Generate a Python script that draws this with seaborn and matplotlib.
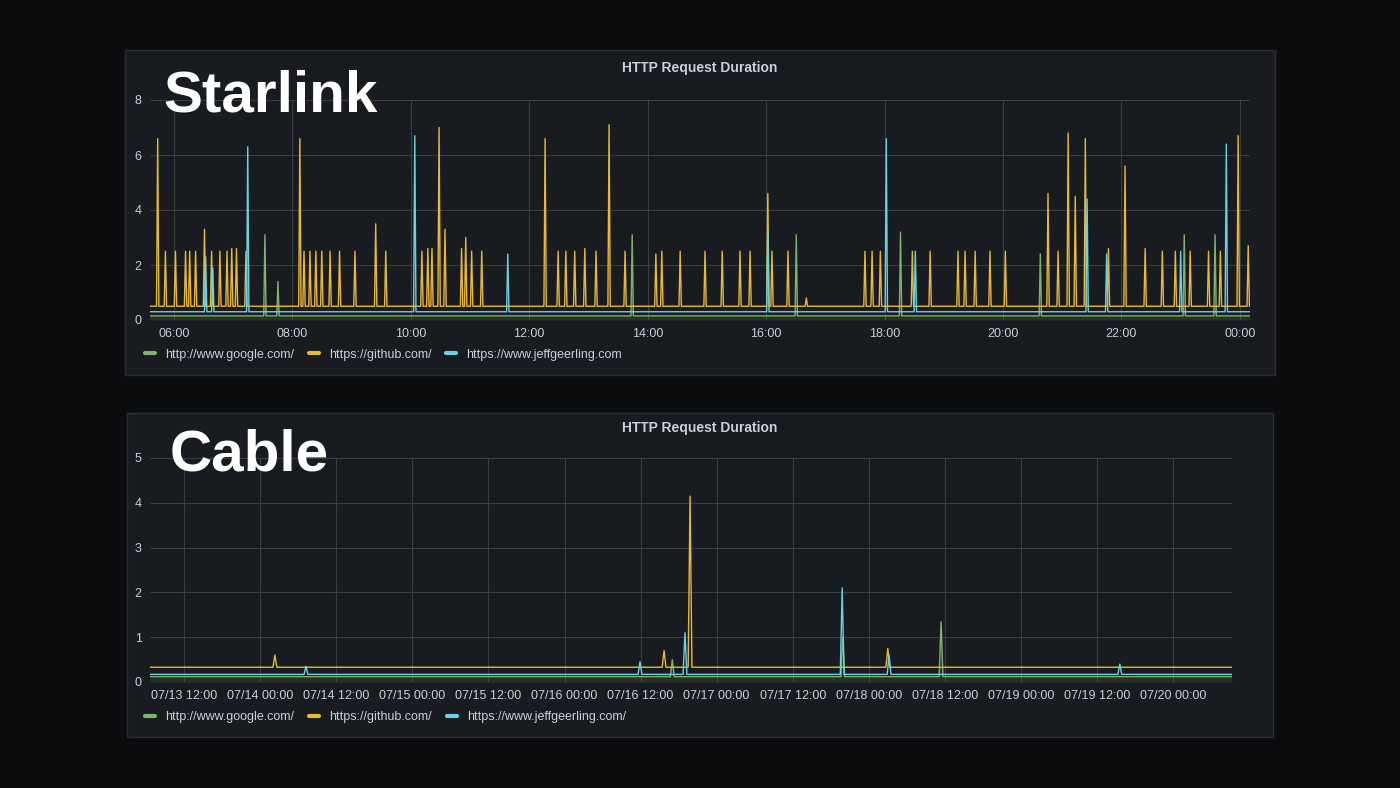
import numpy as np
import pandas as pd
import seaborn as sns
import matplotlib
matplotlib.use('Agg')
import matplotlib.pyplot as plt
from matplotlib.patches import Rectangle

# Starlink panel: spikes as (hour of day, seconds)
star_github_t = [5.73, 5.86, 6.03, 6.20, 6.27, 6.37, 6.52, 6.64, 6.78, 6.90, 6.98, 7.06, 7.22, 8.13, 8.20,
                 8.30, 8.40, 8.50, 8.64, 8.80, 9.06, 9.41, 9.58, 10.19, 10.29, 10.36, 10.48, 10.58, 10.86,
                 10.93, 11.03, 11.20, 12.27, 12.49, 12.62, 12.77, 12.94, 13.13, 13.35, 13.62, 14.14, 14.24,
                 14.55, 14.97, 15.26, 15.56, 15.73, 16.03, 16.10, 16.37, 16.68, 17.67, 17.79, 17.93, 18.47,
                 18.77, 19.24, 19.36, 19.53, 19.78, 20.04, 20.76, 20.93, 21.10, 21.22, 21.39, 21.78, 22.06,
                 22.40, 22.69, 22.91, 23.16, 23.47, 23.67, 23.97, 24.14]
star_github_v = [6.6, 2.5, 2.5, 2.5, 2.5, 2.5, 3.3, 2.5, 2.5, 2.5, 2.6, 2.6, 2.5, 6.6, 2.5,
                 2.5, 2.5, 2.5, 2.5, 2.5, 2.5, 3.5, 2.5, 2.5, 2.6, 2.6, 7.0, 3.3, 2.6,
                 3.0, 2.5, 2.5, 6.6, 2.5, 2.5, 2.5, 2.6, 2.5, 7.1, 2.5, 2.4, 2.5,
                 2.5, 2.5, 2.5, 2.5, 2.5, 4.6, 2.5, 2.5, 0.8, 2.5, 2.5, 2.5, 2.5,
                 2.5, 2.5, 2.5, 2.5, 2.5, 2.5, 4.6, 2.5, 6.8, 4.5, 6.6, 2.6, 5.6,
                 2.6, 2.5, 2.5, 2.5, 2.5, 2.5, 6.7, 2.7]
star_jeff_t = [6.54, 6.66, 7.25, 10.07, 11.64, 16.03, 18.03, 18.52, 21.42, 21.75, 23.00, 23.77]
star_jeff_v = [2.3, 1.9, 6.3, 6.7, 2.4, 3.3, 6.6, 2.5, 4.4, 2.4, 2.5, 6.4]
star_google_t = [7.54, 7.76, 13.74, 16.51, 18.27, 20.63, 23.06, 23.58]
star_google_v = [3.1, 1.4, 3.1, 3.1, 3.2, 2.4, 3.1, 3.1]
star_base = {'github': 0.5, 'jeff': 0.3, 'google': 0.15}
star_ticks = [6, 8, 10, 12, 14, 16, 18, 20, 22, 24]
star_ticklabels = ['06:00', '08:00', '10:00', '12:00', '14:00', '16:00', '18:00', '20:00', '22:00', '00:00']

# Cable panel: spikes as (hours since 07/13 12:00, seconds)
cable_github_t = [14.3, 75.7, 79.8, 111.0]
cable_github_v = [0.6, 0.7, 4.15, 0.75]
cable_jeff_t = [19.2, 71.9, 79.0, 103.8, 111.2, 147.6]
cable_jeff_v = [0.35, 0.45, 1.1, 2.1, 0.6, 0.4]
cable_google_t = [77.0, 103.9, 119.4]
cable_google_v = [0.5, 1.0, 1.35]
cable_base = {'github': 0.33, 'jeff': 0.17, 'google': 0.12}
cable_ticks = [0, 12, 24, 36, 48, 60, 72, 84, 96, 108, 120, 132, 144, 156]
cable_ticklabels = ['07/13 12:00', '07/14 00:00', '07/14 12:00', '07/15 00:00', '07/15 12:00',
                    '07/16 00:00', '07/16 12:00', '07/17 00:00', '07/17 12:00', '07/18 00:00',
                    '07/18 12:00', '07/19 00:00', '07/19 12:00', '07/20 00:00']

COLORS = {'google': '#7eb26d', 'github': '#eab839', 'jeff': '#6ed0e0'}
TXT = '#c7d0d9'


def spike_series(ts, vs, base, x0, x1, w):
    xs, ys = [x0], [base]
    for t, v in sorted(zip(ts, vs)):
        xs += [t - w, t, t + w]
        ys += [base, v, base]
    xs.append(x1)
    ys.append(base)
    return pd.DataFrame({'x': xs, 'y': ys})


def draw_panel(ax, series, x0, x1, w, ymax, yticks, xticks, xlabels, legend_names):
    for key in ['google', 'github', 'jeff']:
        ts, vs, base = series[key]
        df = spike_series(ts, vs, base, x0, x1, w)
        sns.lineplot(data=df, x='x', y='y', ax=ax, color=COLORS[key], lw=1.0, estimator=None, sort=False)
        if key == 'google':
            ax.fill_between(df['x'], df['y'], color=COLORS[key], alpha=0.15, lw=0)
    ax.set_xlim(x0, x1)
    ax.set_ylim(0, ymax)
    ax.set_yticks(yticks)
    ax.set_xticks(xticks)
    ax.set_xticklabels(xlabels)
    ax.set_facecolor('none')
    ax.grid(True, color='#3a3d42', lw=0.8)
    ax.set_axisbelow(True)
    for s in ax.spines.values():
        s.set_visible(False)
    ax.tick_params(colors=TXT, labelsize=9, length=0, pad=6)
    ax.set_xlabel('')
    ax.set_ylabel('')
    handles = [plt.Line2D([], [], color=COLORS[k], lw=3) for k in ['google', 'github', 'jeff']]
    ax.legend(handles, legend_names, loc='upper left', bbox_to_anchor=(-0.015, -0.08), ncol=3,
              frameon=False, fontsize=9, labelcolor=TXT, handlelength=0.8, columnspacing=1.2)


sns.set_theme(style='dark')
plt.rcParams['font.family'] = ['Liberation Sans', 'DejaVu Sans']
fig = plt.figure(figsize=(14, 7.88), dpi=100, facecolor='#0b0c0e')

for (x, y, w, h) in [(125, 50, 1150, 325), (127, 413, 1146, 324)]:
    fig.patches.append(Rectangle((x / 1400, 1 - (y + h) / 788), w / 1400, h / 788, transform=fig.transFigure,
                                 facecolor='#181b1f', edgecolor='#2a2d33', lw=1, zorder=-5))

ax1 = fig.add_axes([150 / 1400, 1 - 320 / 788, 1100 / 1400, 220 / 788], zorder=2)
draw_panel(ax1, {'github': (star_github_t, star_github_v, star_base['github']),
                 'jeff': (star_jeff_t, star_jeff_v, star_base['jeff']),
                 'google': (star_google_t, star_google_v, star_base['google'])},
           5.6, 24.17, 0.02, 8, [0, 2, 4, 6, 8], star_ticks, star_ticklabels,
           ['http://www.google.com/', 'https://github.com/', 'https://www.jeffgeerling.com'])

ax2 = fig.add_axes([150 / 1400, 1 - 682 / 788, 1082 / 1400, 224 / 788], zorder=2)
draw_panel(ax2, {'github': (cable_github_t, cable_github_v, cable_base['github']),
                 'jeff': (cable_jeff_t, cable_jeff_v, cable_base['jeff']),
                 'google': (cable_google_t, cable_google_v, cable_base['google'])},
           -5.4, 165.3, 0.3, 5, [0, 1, 2, 3, 4, 5], cable_ticks, cable_ticklabels,
           ['http://www.google.com/', 'https://github.com/', 'https://www.jeffgeerling.com/'])

fig.text(700 / 1400, 1 - 68 / 788, 'HTTP Request Duration', color=TXT, fontsize=10, fontweight='bold',
         ha='center', va='center')
fig.text(700 / 1400, 1 - 428 / 788, 'HTTP Request Duration', color=TXT, fontsize=10, fontweight='bold',
         ha='center', va='center')
fig.text(163 / 1400, 1 - 97 / 788, 'Starlink', color='white', fontsize=42, fontweight='bold',
         ha='left', va='center', zorder=10)
fig.text(170 / 1400, 1 - 456 / 788, 'Cable', color='white', fontsize=42, fontweight='bold',
         ha='left', va='center', zorder=10)

fig.savefig('out.png', dpi=100, facecolor=fig.get_facecolor())
